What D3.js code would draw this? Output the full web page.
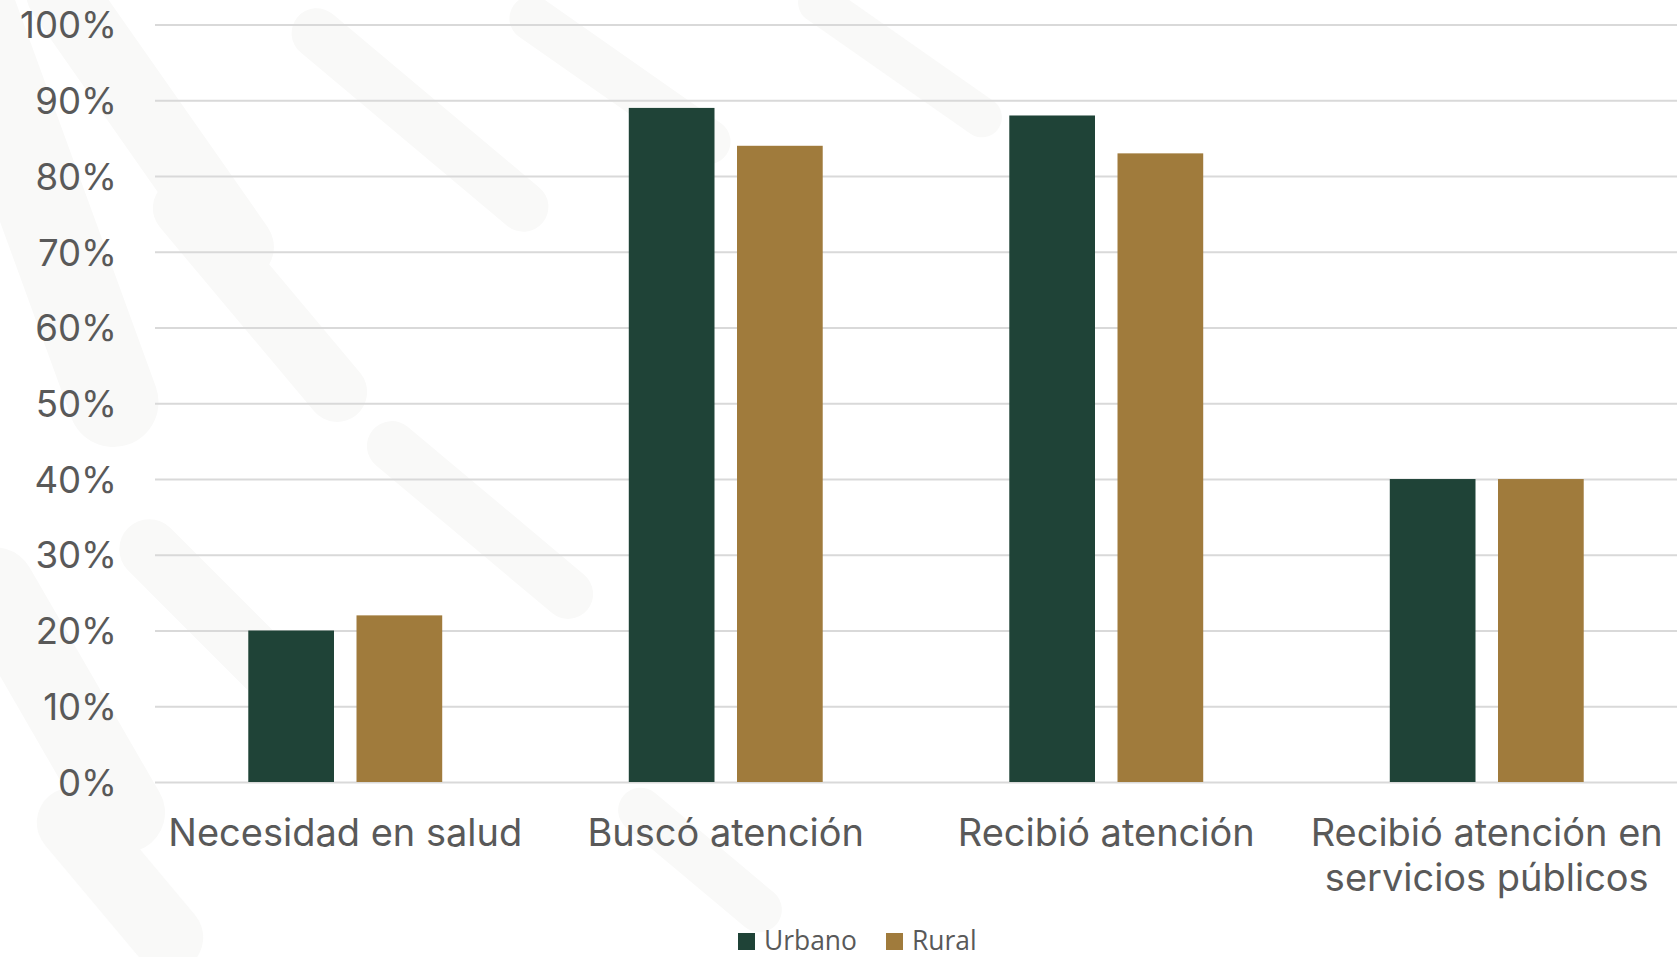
<!DOCTYPE html>
<html>
<head>
<meta charset="utf-8">
<script src="https://cdn.jsdelivr.net/npm/d3@7"></script>
<style>
  html, body { margin: 0; padding: 0; background: #ffffff; }
  svg { display: block; }
</style>
</head>
<body>
<svg id="chart" width="1680" height="957"></svg>
<script>
// ---- Data ----
const categories = [
  ["Necesidad en salud"],
  ["Buscó atención"],
  ["Recibió atención"],
  ["Recibió atención en", "servicios públicos"]
];
const seriesNames = ["Urbano", "Rural"];
const urbano = [20, 89, 88, 40];
const rural  = [22, 84, 83, 40];
const yTicks = [0, 10, 20, 30, 40, 50, 60, 70, 80, 90, 100];

// ---- Styles ----
const colors = { Urbano: "#1f4337", Rural: "#a07b3c" };
const textColor = "#595959";
const gridColor = "#d9d9d9";
const mainFont = "Inter, 'Open Sans', sans-serif";
const legendFont = "'Open Sans', 'Liberation Sans', sans-serif";

const W = 1680, H = 957;
const plot = { left: 155, right: 1677, top: 24.6, bottom: 782 };

const svg = d3.select("#chart");

// ---- faint background watermark ----
const bg = svg.append("g").attr("fill", "#f9f9f8");
const wm = [
  [40, 200, 90, 520, -20], [150, 120, 70, 380, -35], [260, 300, 60, 300, -40],
  [60, 700, 80, 340, -30], [220, 620, 60, 260, -45], [420, 120, 50, 320, -50],
  [620, 80, 45, 260, -55], [900, 60, 40, 240, -55], [480, 520, 50, 280, -50],
  [120, 880, 70, 220, -40], [700, 860, 45, 200, -50]
];
wm.forEach(([x, y, w, h, r]) => {
  bg.append("rect").attr("x", x - w / 2).attr("y", y - h / 2)
    .attr("width", w).attr("height", h).attr("rx", w / 2)
    .attr("transform", `rotate(${r},${x},${y})`);
});

// ---- helpers: fit text width ----
function fitSize(text, family, targetWidth) {
  const t = svg.append("text").attr("font-family", family).attr("font-size", 100).text(text);
  const w = t.node().getComputedTextLength();
  t.remove();
  return 100 * targetWidth / w;
}
const tickSize = fitSize("100%", mainFont, 97);
const catSize = fitSize("Necesidad en salud", mainFont, 354);
const legSize = fitSize("Urbano", legendFont, 93);

// ---- Scales ----
const catKeys = categories.map(c => c.join(" "));
const x0 = d3.scaleBand().domain(catKeys).range([plot.left, plot.right]).paddingInner(0).paddingOuter(0);
const x1 = d3.scaleBand().domain(seriesNames).range([0, x0.bandwidth()]).paddingInner(0.208).paddingOuter(0.862);
const y = d3.scaleLinear().domain([0, 100]).range([plot.bottom, plot.top]);

// ---- Gridlines ----
const grid = svg.append("g")
  .attr("transform", `translate(${plot.left},0)`)
  .call(d3.axisLeft(y).tickValues(yTicks).tickSize(-(plot.right - plot.left)).tickFormat(""));
grid.select(".domain").remove();
grid.selectAll(".tick line").attr("stroke", gridColor).attr("stroke-width", 2);

// ---- Y axis labels ----
const yAxis = svg.append("g")
  .attr("transform", `translate(117,0)`)
  .call(d3.axisLeft(y).tickValues(yTicks).tickSize(0).tickPadding(0).tickFormat(d => d + "%"));
yAxis.select(".domain").remove();
yAxis.selectAll("text")
  .attr("font-family", mainFont).attr("font-size", tickSize)
  .attr("fill", textColor).attr("dy", "0.36em");

// ---- Bars ----
const rows = categories.map((c, i) => ({ key: catKeys[i], vals: [urbano[i], rural[i]] }));
const groups = svg.append("g").selectAll("g").data(rows).join("g")
  .attr("transform", d => `translate(${x0(d.key)},0)`);
groups.selectAll("rect")
  .data(d => d.vals.map((v, j) => ({ s: seriesNames[j], v })))
  .join("rect")
  .attr("x", d => x1(d.s))
  .attr("width", x1.bandwidth())
  .attr("y", d => y(d.v))
  .attr("height", d => y(0) - y(d.v))
  .attr("fill", d => colors[d.s]);

// ---- X axis labels ----
const xAxis = svg.append("g").attr("font-family", mainFont).attr("font-size", catSize).attr("fill", textColor);
categories.forEach((lines, i) => {
  const cx = x0(catKeys[i]) + x0.bandwidth() / 2;
  lines.forEach((ln, k) => {
    xAxis.append("text")
      .attr("x", cx)
      .attr("y", 846 + k * 45)
      .attr("text-anchor", "middle")
      .text(ln);
  });
});

// ---- Legend ----
const legend = svg.append("g");
const legendItems = [
  { name: "Urbano", sx: 738, tx: 764 },
  { name: "Rural", sx: 886, tx: 912 }
];
legendItems.forEach(it => {
  legend.append("rect").attr("x", it.sx).attr("y", 933).attr("width", 17).attr("height", 17)
    .attr("fill", colors[it.name]);
  legend.append("text").attr("x", it.tx).attr("y", 950)
    .attr("font-family", legendFont).attr("font-size", legSize)
    .attr("fill", textColor).text(it.name);
});
</script>
</body>
</html>
